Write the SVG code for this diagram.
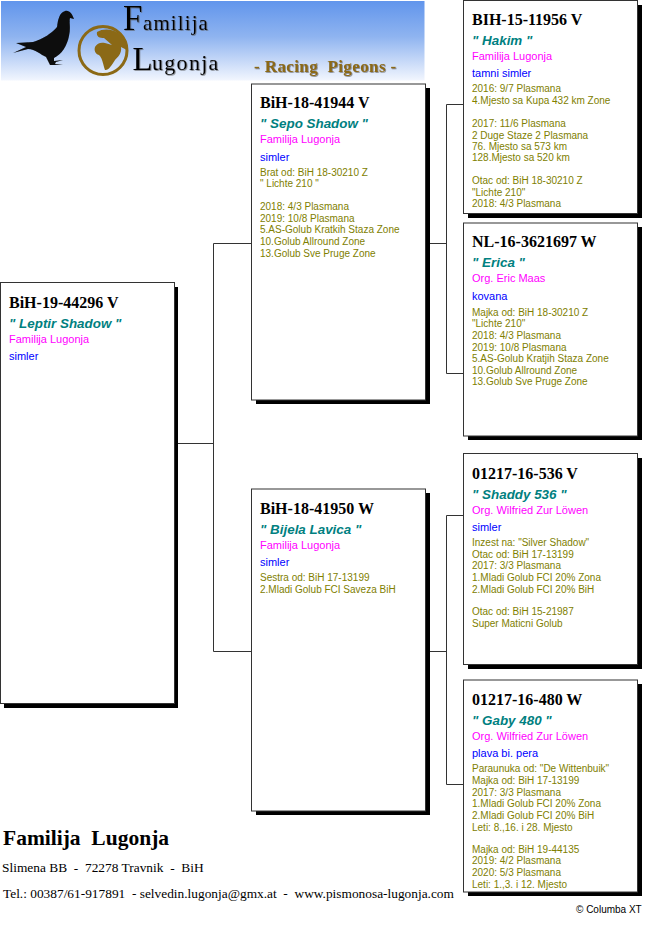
<svg xmlns="http://www.w3.org/2000/svg" width="650" height="931" viewBox="0 0 650 931">
<style>
text{white-space:pre}
.t{font:bold 16px "Liberation Serif",serif;fill:#000}
.n{font:italic bold 13.4px "Liberation Sans",Arial,sans-serif;fill:#008080}
.m{font:11px "Liberation Sans",Arial,sans-serif;fill:#ff00ff}
.b{font:11px "Liberation Sans",Arial,sans-serif;fill:#0000ff}
.s{font:10px "Liberation Sans",Arial,sans-serif;fill:#808000}
.box{fill:#fff;stroke:#333;stroke-width:1}
.sh{fill:#000}
.c{fill:none;stroke:#333;stroke-width:1}
.lg{font-family:"Liberation Serif",serif;fill:#000;filter:url(#ds)}
.rp{font:bold 17px "Liberation Serif",serif;fill:#8b6914;filter:url(#ds)}
.f{font-family:"Liberation Serif",serif;fill:#000}
</style>
<defs>
<linearGradient id="sky" x1="0" y1="0" x2="0" y2="1"><stop offset="0" stop-color="#6195ec"/><stop offset="0.45" stop-color="#8fb4f0"/><stop offset="1" stop-color="#f2f6fe"/></linearGradient>
<filter id="ds" x="-20%" y="-30%" width="140%" height="160%"><feDropShadow dx="0.8" dy="0.8" stdDeviation="0.6" flood-color="#555" flood-opacity="0.7"/></filter>
<filter id="soft"><feGaussianBlur stdDeviation="0.4"/></filter>
</defs>
<rect width="650" height="931" fill="#fff"/>
<g id="logo">
<rect x="1" y="1" width="423.500" height="79.500" fill="url(#sky)"/>
<path filter="url(#soft)" fill="#0a0a0a" d="M13 53 L26 47 L16 43 L33 42 C43 39 52 33 57 27 C58 20 59 13 65 11 C70 10 72 14 74 19 L70 18 C69 22 71 28 69 36 C67 46 62 54 54 58 L54 61 L63 60 L56 62 L55 64 L63 65 L50 65 L46 57 C41 55 35 49 28 49 Z"/>
<circle cx="103" cy="50.500" r="24" fill="none" stroke="#8b6914" stroke-width="3" filter="url(#soft)"/>
<path fill="#8b6914" filter="url(#soft)" d="M97 32 C103 28 113 29 118 33 C124 38 127 45 127 50 L121 47 C122 53 118 57 115 60 C112 65 108 71 105 70 C103 65 103 59 99 55 C95 54 94 50 95 47 C97 43 101 42 105 43 L112 45 L104 38 C100 38 96 37 97 32 Z"/>
<text class="lg" x="123" y="30" font-size="35">F</text>
<text class="lg" x="143" y="30" font-size="21" letter-spacing="1.100">amilija</text>
<text class="lg" x="132.500" y="70" font-size="33">L</text>
<text class="lg" x="152" y="70" font-size="22" letter-spacing="1.300">ugonja</text>
<text class="rp" x="254" y="72" letter-spacing="0.400">- Racing  Pigeons -</text>
</g>
<g id="connectors">
<path class="c" d="M178 443.500H213.500M251 243.500H213.500V651.500H251"/>
<path class="c" d="M429 243.500H446.500M463 104.500H446.500V373.500H463"/>
<path class="c" d="M429 651.500H446.500M463 515.500H446.500V784.500H463"/>
</g>
<g id="pigeon-a">
<rect class="sh" x="4" y="287" width="174" height="421"/><rect class="box" x="0.500" y="282.500" width="174" height="421"/>
<text class="t" x="9" y="308">BiH-19-44296 V</text>
<text class="n" x="9" y="327.500">" Leptir Shadow "</text>
<text class="m" x="9" y="343">Familija Lugonja</text>
<text class="b" x="9" y="360">simler</text>
</g>
<g id="pigeon-b1">
<rect class="sh" x="256" y="88" width="174" height="316"/><rect class="box" x="251.500" y="84" width="174" height="316"/>
<text class="t" x="260" y="108">BiH-18-41944 V</text>
<text class="n" x="260" y="127.500">" Sepo Shadow "</text>
<text class="m" x="260" y="143">Familija Lugonja</text>
<text class="b" x="260" y="161">simler</text>
<text class="s" x="260" y="175.500">Brat od: BiH 18-30210 Z</text>
<text class="s" x="260" y="187">" Lichte 210 "</text>
<text class="s" x="260" y="210">2018: 4/3 Plasmana</text>
<text class="s" x="260" y="221.500">2019: 10/8 Plasmana</text>
<text class="s" x="260" y="233">5.AS-Golub Kratkih Staza Zone</text>
<text class="s" x="260" y="245">10.Golub Allround Zone</text>
<text class="s" x="260" y="256.500">13.Golub Sve Pruge Zone</text>
</g>
<g id="pigeon-b2">
<rect class="sh" x="256" y="493" width="174" height="322"/><rect class="box" x="251.500" y="489" width="174" height="322"/>
<text class="t" x="260" y="514">BiH-18-41950 W</text>
<text class="n" x="260" y="533.500">" Bijela Lavica "</text>
<text class="m" x="260" y="549">Familija Lugonja</text>
<text class="b" x="260" y="566">simler</text>
<text class="s" x="260" y="581">Sestra od: BiH 17-13199</text>
<text class="s" x="260" y="593">2.Mladi Golub FCI Saveza BiH</text>
</g>
<g id="pigeon-c1">
<rect class="sh" x="468" y="5" width="174" height="213"/><rect class="box" x="463.500" y="0.500" width="174" height="213"/>
<text class="t" x="472" y="25">BIH-15-11956 V</text>
<text class="n" x="472" y="44.500">" Hakim "</text>
<text class="m" x="472" y="60">Familija Lugonja</text>
<text class="b" x="472" y="77">tamni simler</text>
<text class="s" x="472" y="92">2016: 9/7 Plasmana</text>
<text class="s" x="472" y="104">4.Mjesto sa Kupa 432 km Zone</text>
<text class="s" x="472" y="127">2017: 11/6 Plasmana</text>
<text class="s" x="472" y="138.500">2 Duge Staze 2 Plasmana</text>
<text class="s" x="472" y="150">76. Mjesto sa 573 km</text>
<text class="s" x="472" y="161">128.Mjesto sa 520 km</text>
<text class="s" x="472" y="184">Otac od: BiH 18-30210 Z</text>
<text class="s" x="472" y="196">"Lichte 210"</text>
<text class="s" x="472" y="207">2018: 4/3 Plasmana</text>
</g>
<g id="pigeon-c2">
<rect class="sh" x="468" y="227" width="174" height="213"/><rect class="box" x="463.500" y="223" width="174" height="213"/>
<text class="t" x="472" y="247">NL-16-3621697 W</text>
<text class="n" x="472" y="267">" Erica "</text>
<text class="m" x="472" y="282">Org. Eric Maas</text>
<text class="b" x="472" y="300">kovana</text>
<text class="s" x="472" y="316">Majka od: BiH 18-30210 Z</text>
<text class="s" x="472" y="327">"Lichte 210"</text>
<text class="s" x="472" y="339">2018: 4/3 Plasmana</text>
<text class="s" x="472" y="351">2019: 10/8 Plasmana</text>
<text class="s" x="472" y="362">5.AS-Golub Kratjih Staza Zone</text>
<text class="s" x="472" y="373.500">10.Golub Allround Zone</text>
<text class="s" x="472" y="385">13.Golub Sve Pruge Zone</text>
</g>
<g id="pigeon-c3">
<rect class="sh" x="468" y="458" width="174" height="211"/><rect class="box" x="463.500" y="453.500" width="174" height="211"/>
<text class="t" x="472" y="479">01217-16-536 V</text>
<text class="n" x="472" y="498.500">" Shaddy 536 "</text>
<text class="m" x="472" y="513.500">Org. Wilfried Zur Löwen</text>
<text class="b" x="472" y="531">simler</text>
<text class="s" x="472" y="546">Inzest na: "Silver Shadow"</text>
<text class="s" x="472" y="558">Otac od: BiH 17-13199</text>
<text class="s" x="472" y="569">2017: 3/3 Plasmana</text>
<text class="s" x="472" y="581">1.Mladi Golub FCI 20% Zona</text>
<text class="s" x="472" y="593">2.Mladi Golub FCI 20% BiH</text>
<text class="s" x="472" y="615">Otac od: BiH 15-21987</text>
<text class="s" x="472" y="627">Super Maticni Golub</text>
</g>
<g id="pigeon-c4">
<rect class="sh" x="468" y="684" width="174" height="212"/><rect class="box" x="463.500" y="680" width="174" height="212"/>
<text class="t" x="472" y="705">01217-16-480 W</text>
<text class="n" x="472" y="724.500">" Gaby 480 "</text>
<text class="m" x="472" y="740">Org. Wilfried Zur Löwen</text>
<text class="b" x="472" y="757">plava bi. pera</text>
<text class="s" x="472" y="772">Paraunuka od: "De Wittenbuik"</text>
<text class="s" x="472" y="784">Majka od: BiH 17-13199</text>
<text class="s" x="472" y="795.500">2017: 3/3 Plasmana</text>
<text class="s" x="472" y="807">1.Mladi Golub FCI 20% Zona</text>
<text class="s" x="472" y="819">2.Mladi Golub FCI 20% BiH</text>
<text class="s" x="472" y="831">Leti: 8.,16. i 28. Mjesto</text>
<text class="s" x="472" y="853">Majka od: BiH 19-44135</text>
<text class="s" x="472" y="864">2019: 4/2 Plasmana</text>
<text class="s" x="472" y="876">2020: 5/3 Plasmana</text>
<text class="s" x="472" y="888">Leti: 1.,3. i 12. Mjesto</text>
</g>
<g id="footer">
<text class="f" x="3" y="845" font-size="21.500" font-weight="bold">Familija  Lugonja</text>
<text class="f" x="2" y="872" font-size="13.400">Slimena BB  -  72278 Travnik  -  BiH</text>
<text class="f" x="3" y="898" font-size="13.360">Tel.: 00387/61-917891  - selvedin.lugonja@gmx.at  -  www.pismonosa-lugonja.com</text>
<text x="576" y="913" font-family="'Liberation Sans',Arial,sans-serif" font-size="10" fill="#000">© Columba XT</text>
</g>
</svg>
